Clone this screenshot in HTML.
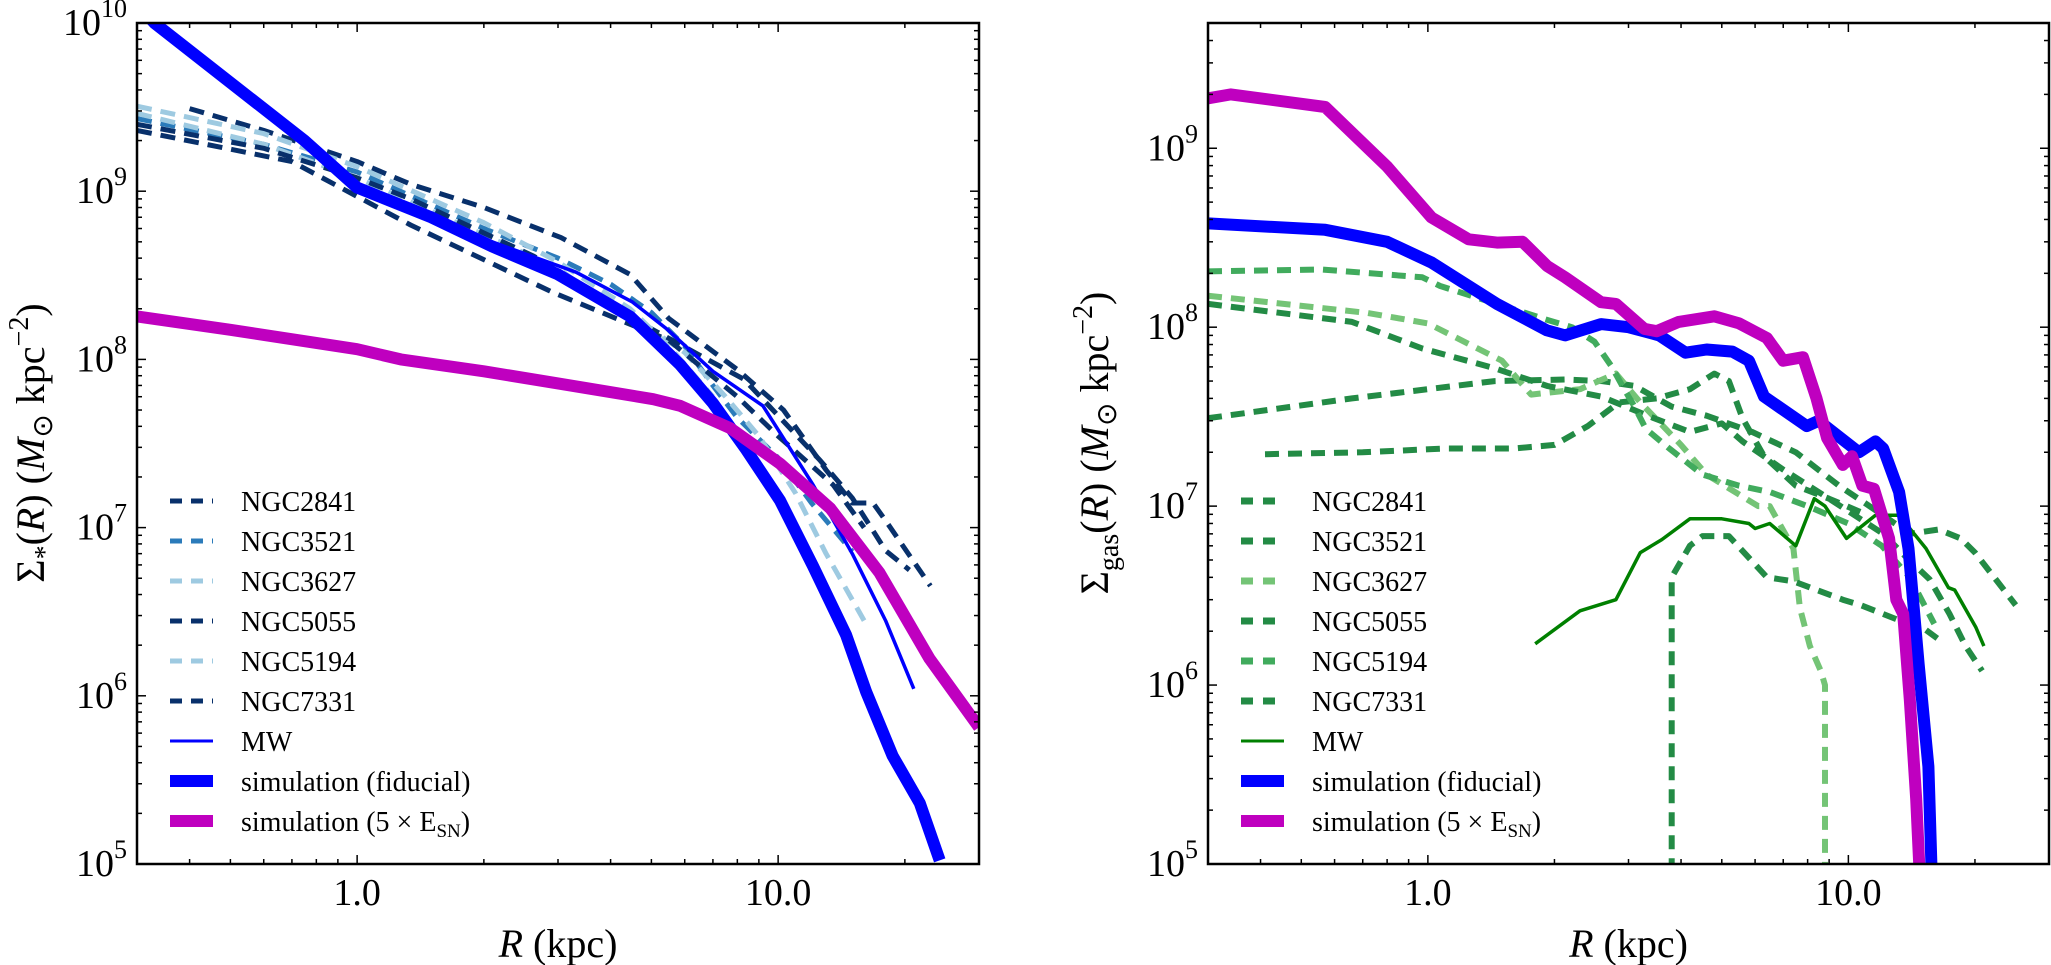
<!DOCTYPE html>
<html><head><meta charset="utf-8">
<style>
html,body{margin:0;padding:0;background:#fff;}
svg{display:block;font-family:"Liberation Serif",serif;}
</style></head>
<body>
<svg id="fig" width="2051" height="965" viewBox="0 0 2051 965" xmlns="http://www.w3.org/2000/svg"></svg>
<script>
// ---------- LEFT PANEL DATA (stellar surface density) ----------
const L_2841_R = [0.4,0.6,1.0,1.34,2,3.05,4.45,5.5,8,10.3,13,15,16.8,18,23];
const L_2841_S = [3.1e9,2.3e9,1.5e9,1.1e9,8e8,5.3e8,3.2e8,1.75e8,8.7e7,5e7,2.2e7,1.4e7,1.4e7,1.1e7,4.5e6];
const L_3521_R = [0.3,0.6,1,2,3,4,5,6,7,8,10,12,15];
const L_3521_S = [2.7e9,1.9e9,1.3e9,6e8,4e8,2.8e8,1.9e8,1.2e8,7e7,4.5e7,2.6e7,1.4e7,7.2e6];
const L_3627_R = [0.3,0.6,1,2,3,4,5,6,7.5,9,11,13,16];
const L_3627_S = [2.9e9,1.9e9,1.2e9,5.5e8,3.5e8,2e8,1.5e8,1.1e8,6e7,3.5e7,1.6e7,7e6,2.8e6];
const L_5055_R = [0.3,0.6,1,1.34,2.63,4.6,8.3,12.6,15,18,20.5];
const L_5055_S = [2.5e9,1.8e9,1.2e9,9e8,4.1e8,1.7e8,7.6e7,2.5e7,1.5e7,7.3e6,5.6e6];
const L_5194_R = [0.3,0.6,1,2,3,4.45,5.5,7];
const L_5194_S = [3.2e9,2.2e9,1.4e9,6.5e8,3.8e8,2e8,1.2e8,6e7];
const L_7331_R = [0.3,0.7,1.34,2.92,5.5,8,10,13.5,16];
const L_7331_S = [2.3e9,1.5e9,6.3e8,2.5e8,1.3e8,6e7,3.5e7,1.8e7,1e7];
const L_MW_R = [0.75,1.0,2.09,3.31,4.5,5.47,7,9.2,12.1,15,18,21];
const L_MW_S = [1.9e9,1.1e9,5e8,3.3e8,2.2e8,1.5e8,8.5e7,5.3e7,1.8e7,7e6,2.8e6,1.1e6];
const L_FID_R = [0.3,0.33,0.75,1.0,1.5,2.09,3,4.45,5.85,7,8.4,10.1,12.1,14.5,16.2,18.7,21.7,24.2];
const L_FID_S = [1.3e10,1e10,2e9,1.05e9,7e8,4.7e8,3.2e8,1.8e8,9.3e7,5.5e7,2.9e7,1.45e7,5.9e6,2.3e6,1.05e6,4.4e5,2.3e5,1.05e5];
const L_5X_R = [0.3,0.5,1.0,1.27,2,3,5.05,5.85,7.7,10.1,13.3,17.4,22.9,30];
const L_5X_S = [1.8e8,1.5e8,1.15e8,1e8,8.5e7,7.2e7,5.8e7,5.3e7,3.9e7,2.4e7,1.3e7,5.4e6,1.66e6,6.5e5];

// ---------- RIGHT PANEL DATA (gas surface density) ----------
const R_2841_R = [0.3,0.66,1.44,2.12,2.6,3.1,3.8,4.6,5.9,7.5,9.5,12,14,16.4,18.5,20,25];
const R_2841_S = [3.1e7,4e7,5e7,5.1e7,5e7,4.7e7,3.6e7,3.2e7,2.6e7,2e7,1.3e7,9e6,7e6,7.4e6,6.6e6,5.5e6,2.8e6];
const R_3521_R = [0.41,0.7,1.1,1.6,2.0,2.4,2.85,3.5,4.2,4.8,5.2,5.6,6.3,7.5,9,11];
const R_3521_S = [1.95e7,2e7,2.1e7,2.1e7,2.2e7,2.8e7,3.8e7,4e7,4.5e7,5.5e7,5e7,3.1e7,1.9e7,1.3e7,1.1e7,9e6];
const R_3627_R = [0.3,0.72,1.0,1.5,1.76,2.3,2.8,3.2,4,4.6,6.1,6.5,7.4,7.67,8.1,8.6,8.8,8.8];
const R_3627_S = [1.5e8,1.2e8,1.05e8,6.5e7,4.2e7,4.5e7,5.5e7,3.8e7,2.2e7,1.5e7,1e7,1e7,5.8e6,2.7e6,1.65e6,1.2e6,1e6,9e4];
const R_5055_R = [0.3,0.66,0.97,1.44,1.92,2.58,3.45,4.2,5,5.6,7,9,12.1,13.7,15.6,17.4,19,20.8];
const R_5055_S = [1.35e8,1.07e8,7.6e7,5.9e7,4.7e7,4.1e7,3.1e7,2.6e7,2.9e7,2.3e7,1.6e7,1.1e7,7e6,5.2e6,3.9e6,2.5e6,1.65e6,1.2e6];
const R_5194_R = [0.3,0.56,0.97,1.07,1.92,2.2,2.49,2.74,2.9,3.1,3.3,3.75,4.5,5.5,6.5,8,10,12,14,16];
const R_5194_S = [2.05e8,2.1e8,1.9e8,1.7e8,1.1e8,1e8,8.3e7,6e7,4.7e7,3.6e7,2.7e7,2.1e7,1.5e7,1.3e7,1.2e7,1e7,8e6,6e6,4e6,2.2e6];
const R_7331_R = [3.8,3.8,4.2,4.5,5.2,6.4,7.4,9.7,10.7,13.2,15,16.4];
const R_7331_S = [9e4,4e6,6e6,6.8e6,6.8e6,4e6,3.8e6,3e6,2.8e6,2.3e6,2.1e6,1.8e6];
const R_MW_R = [1.8,2.3,2.8,3.2,3.6,4.2,5,5.8,6,6.5,7.5,8.3,8.8,9.9,11.6,13.2,15.3,17.3,17.9,20.1,21];
const R_MW_S = [1.7e6,2.6e6,3e6,5.5e6,6.5e6,8.5e6,8.5e6,8e6,7.5e6,8e6,6e6,1.1e7,1e7,6.6e6,8.9e6,8.9e6,5.8e6,3.5e6,3.4e6,2.1e6,1.65e6];
const R_FID_R = [0.3,0.57,0.8,1.02,1.46,1.92,2.12,2.58,3.0,3.55,4.1,4.6,5.3,5.8,6.3,7.96,8.5,10.6,11.6,12.1,13.2,13.9,14.7,15.5,15.8];
const R_FID_S = [3.8e8,3.5e8,3e8,2.3e8,1.35e8,9.6e7,9e7,1.04e8,1e8,9e7,7.2e7,7.5e7,7.3e7,6.5e7,4.1e7,2.8e7,3e7,2e7,2.3e7,2.1e7,1.2e7,5.8e6,1.3e6,3.5e5,8e4];
const R_5X_R = [0.3,0.34,0.57,0.8,1.02,1.25,1.46,1.68,1.92,2.12,2.58,2.8,3.27,3.5,3.95,4.8,5.5,6.4,7,7.8,8.4,8.9,9.7,10.2,10.8,11.5,12.5,13,13.5,14,14.5,14.8];
const R_5X_S = [1.9e9,2e9,1.7e9,7.9e8,4.1e8,3.1e8,2.97e8,3e8,2.2e8,1.9e8,1.38e8,1.35e8,9.8e7,9.5e7,1.07e8,1.15e8,1.05e8,8.7e7,6.5e7,6.8e7,4e7,2.4e7,1.7e7,1.9e7,1.3e7,1.25e7,6.6e6,3e6,2.5e6,8.3e5,2.3e5,8e4];

const NS='http://www.w3.org/2000/svg';
const svg=document.getElementById('fig');
function mk(tag,attrs,parent){const e=document.createElementNS(NS,tag);for(const k in attrs)e.setAttribute(k,attrs[k]);(parent||svg).appendChild(e);return e;}

const panels=[
 {id:'left',x0:137,x1:979,y0:23,y1:864,ymin:5,ymax:10,xmin:Math.log10(0.3),xmax:Math.log10(30)},
 {id:'right',x0:1208,x1:2049,y0:23,y1:864,ymin:5,ymax:9.70,xmin:Math.log10(0.3),xmax:Math.log10(30)}
];
function X(p,r){return p.x0+(Math.log10(r)-p.xmin)/(p.xmax-p.xmin)*(p.x1-p.x0);}
function Y(p,s){return p.y1-(Math.log10(s)-p.ymin)/(p.ymax-p.ymin)*(p.y1-p.y0);}

panels.forEach(p=>{
 const clip=mk('clipPath',{id:'clip-'+p.id});
 mk('rect',{x:p.x0,y:p.y0,width:p.x1-p.x0,height:p.y1-p.y0},clip);
 p.g=mk('g',{'clip-path':'url(#clip-'+p.id+')'});
 
 
});

function line(p,R,S,color,w,dash,name){
 const pts=R.map((r,i)=>X(p,r).toFixed(1)+','+Y(p,S[i]).toFixed(1)).join(' ');
 const a={points:pts,fill:'none',stroke:color,'stroke-width':w,'stroke-linejoin':'round'};
 if(dash)a['stroke-dasharray']=dash;
 const e=mk('polyline',a,p.g);
 
 
}
const navy='#08306b',mblue='#2b7bba',lblue='#9ecae1';
const gdark='#238b45',gmed='#41ab5d',glight='#74c476';
const P=panels[0],Q=panels[1];
const d1='15 9',d2='14 9';
line(P,L_2841_R,L_2841_S,navy,5,d1,'left-ngc2841-line');
line(P,L_3521_R,L_3521_S,mblue,5,d1,'left-ngc3521-line');
line(P,L_3627_R,L_3627_S,lblue,5,d1,'left-ngc3627-line');
line(P,L_5055_R,L_5055_S,navy,5,d1,'left-ngc5055-line');
line(P,L_5194_R,L_5194_S,lblue,5,d1,'left-ngc5194-line');
line(P,L_7331_R,L_7331_S,navy,5,d1,'left-ngc7331-line');
line(P,L_MW_R,L_MW_S,'#0000ff',3.5,null,'left-mw-line');
line(P,L_FID_R,L_FID_S,'#0000ff',12,null,'left-simulation-fiducial-line');
line(P,L_5X_R,L_5X_S,'#bf00bf',12,null,'left-simulation-5x-line');

line(Q,R_2841_R,R_2841_S,gdark,6,d2,'right-ngc2841-line');
line(Q,R_3521_R,R_3521_S,gdark,6,d2,'right-ngc3521-line');
line(Q,R_3627_R,R_3627_S,glight,6,d2,'right-ngc3627-line');
line(Q,R_5055_R,R_5055_S,gdark,6,d2,'right-ngc5055-line');
line(Q,R_5194_R,R_5194_S,gmed,6,d2,'right-ngc5194-line');
line(Q,R_7331_R,R_7331_S,gdark,6,d2,'right-ngc7331-line');
line(Q,R_MW_R,R_MW_S,'#008000',3.5,null,'right-mw-line');
line(Q,R_FID_R,R_FID_S,'#0000ff',12,null,'right-simulation-fiducial-line');
line(Q,R_5X_R,R_5X_S,'#bf00bf',12,null,'right-simulation-5x-line');

// axes, ticks, labels
const xTickVals=[1,10], xTickLabels=['1.0','10.0'];
panels.forEach(p=>{
 const ax=mk('g',{});
 
 
 mk('rect',{x:p.x0,y:p.y0,width:p.x1-p.x0,height:p.y1-p.y0,fill:'none',stroke:'#000','stroke-width':2.5},ax);
 for(let dec=-1;dec<=1;dec++)for(let m=1;m<10;m++){
  const v=m*Math.pow(10,dec); const lv=Math.log10(v);
  if(lv<p.xmin-1e-9||lv>p.xmax+1e-9)continue;
  const x=X(p,v), L=(m===1)?9:5;
  mk('line',{x1:x,x2:x,y1:p.y1,y2:p.y1-L,stroke:'#000','stroke-width':1.5},ax);
  mk('line',{x1:x,x2:x,y1:p.y0,y2:p.y0+L,stroke:'#000','stroke-width':1.5},ax);
 }
 xTickVals.forEach((v,i)=>{
  const t=mk('text',{x:X(p,v),y:905,'font-size':38,'text-anchor':'middle'},ax);
  t.textContent=xTickLabels[i];
  
  
 });
 for(let dec=4;dec<=10;dec++)for(let m=1;m<10;m++){
  const v=m*Math.pow(10,dec); const lv=Math.log10(v);
  if(lv<p.ymin-1e-9||lv>p.ymax+1e-9)continue;
  const y=Y(p,v), L=(m===1)?9:5;
  mk('line',{x1:p.x0,x2:p.x0+L,y1:y,y2:y,stroke:'#000','stroke-width':1.5},ax);
  mk('line',{x1:p.x1,x2:p.x1-L,y1:y,y2:y,stroke:'#000','stroke-width':1.5},ax);
  if(m===1){
   const t=mk('text',{x:p.x0-10,y:y+12,'font-size':38,'text-anchor':'end'},ax);
   
   
   const a=mk('tspan',{},t);a.textContent='10';
   const b=mk('tspan',{'font-size':26,dy:-18},t);b.textContent=String(dec);
  }
 }
 const xl=mk('text',{x:(p.x0+p.x1)/2,y:957,'font-size':40,'text-anchor':'middle'},ax);
 
 
 const i1=mk('tspan',{'font-style':'italic'},xl);i1.textContent='R';
 const i2=mk('tspan',{},xl);i2.textContent=' (kpc)';
});

function ytitle(cx,sub,name){
 const t=mk('text',{x:0,y:0,'font-size':40,'text-anchor':'middle',transform:'translate('+cx+',443) rotate(-90)'});
 
 
 const a=mk('tspan',{},t);a.textContent='Σ';
 const b=mk('tspan',{'font-size':28,dy:10},t);b.textContent=sub;
 const c=mk('tspan',{dy:-10},t);c.textContent='(';
 const d=mk('tspan',{'font-style':'italic'},t);d.textContent='R';
 const e=mk('tspan',{},t);e.textContent=') (';
 const f=mk('tspan',{'font-style':'italic'},t);f.textContent='M';
 const g=mk('tspan',{'font-size':28,dy:8},t);g.textContent='⊙';
 const h=mk('tspan',{dy:-8},t);h.textContent=' kpc';
 const k=mk('tspan',{'font-size':28,dy:-16},t);k.textContent='−2';
 const l=mk('tspan',{dy:16},t);l.textContent=')';
}
ytitle(44,'*','left-y-axis-title');
ytitle(1108,'gas','right-y-axis-title');

const legNames=['NGC2841','NGC3521','NGC3627','NGC5055','NGC5194','NGC7331','MW','simulation (fiducial)','simulation (5 × E'];
const leftStyles=[[navy,5,'12 9'],[mblue,5,'12 9'],[lblue,5,'12 9'],[navy,5,'12 9'],[lblue,5,'12 9'],[navy,5,'12 9'],['#0000ff',3,null],['#0000ff',12,null],['#bf00bf',12,null]];
const rightStyles=[[gdark,7,'12 10'],[gdark,7,'12 10'],[glight,7,'12 10'],[gdark,7,'12 10'],[gmed,7,'12 10'],[gdark,7,'12 10'],['#008000',3,null],['#0000ff',12,null],['#bf00bf',12,null]];
[[P,leftStyles],[Q,rightStyles]].forEach(([p,st])=>{
 const lg=mk('g',{});
 
 
 legNames.forEach((n,i)=>{
  const y=501+i*40;
  const e=mk('g',{},lg);
  
  
  const a={x1:p.x0+33,x2:p.x0+76,y1:y,y2:y,stroke:st[i][0],'stroke-width':st[i][1]};
  if(st[i][2])a['stroke-dasharray']=st[i][2];
  mk('line',a,e);
  const t=mk('text',{x:p.x0+104,y:y+10,'font-size':28},e);
  if(i===8){
   const s1=mk('tspan',{},t);s1.textContent=n;
   const s2=mk('tspan',{'font-size':19,dy:6},t);s2.textContent='SN';
   const s3=mk('tspan',{dy:-6},t);s3.textContent=')';
  } else t.textContent=n;
 });
});
</script>
</body></html>
